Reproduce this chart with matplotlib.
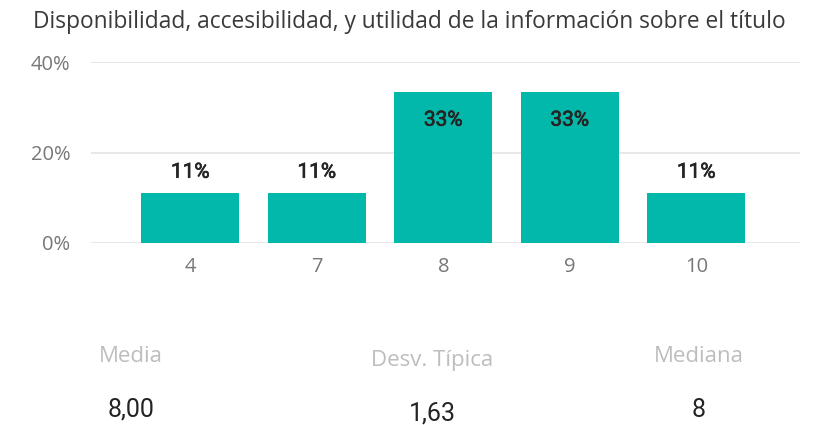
import matplotlib
matplotlib.use("Agg")
import matplotlib.pyplot as plt
import matplotlib.patheffects as pe
from matplotlib.ticker import FuncFormatter

# Survey scores and share of answers per score
categories = ["4", "7", "8", "9", "10"]
shares = [1/9, 1/9, 3/9, 3/9, 1/9]
yticks = [0, 0.2, 0.4]

title = "Disponibilidad, accesibilidad, y utilidad de la información sobre el título"
stat_names = ["Media", "Desv. Típica", "Mediana"]
stat_values = ["8,00", "1,63", "8"]

BAR = "#01B8AA"
W, H = 818, 425

plt.rcParams["font.family"] = ["Open Sans", "DejaVu Sans"]
fig = plt.figure(figsize=(W / 100, H / 100), dpi=100)
ax = fig.add_axes([91 / W, (H - 243) / H, (800 - 91) / W, (243 - 62) / H])

x = list(range(len(categories)))
bars = ax.bar(x, shares, width=0.775, color=BAR, zorder=3)
ax.set_xlim(-0.785, 4.82)
ax.set_ylim(0, 0.4)
ax.set_yticks(yticks)
ax.yaxis.set_major_formatter(FuncFormatter(lambda v, _: f"{v*100:.0f}%"))
ax.set_xticks(x)
ax.set_xticklabels(categories)
ax.grid(axis="y", color="#E6E6E6", linewidth=1.3, zorder=0)
for s in ax.spines.values():
    s.set_visible(False)
ax.tick_params(axis="both", length=0, colors="#777777", labelsize=14.5)
ax.tick_params(axis="y", pad=15)
ax.tick_params(axis="x", pad=10)

# Value labels: above short bars, inside the top of tall bars
thicken = [pe.withStroke(linewidth=0.5, foreground="#252423")]
for b, v in zip(bars, shares):
    label = f"{v*100:.0f}%"
    cx = b.get_x() + b.get_width() / 2
    dy = -33.5 if v > 0.25 else 15
    ax.annotate(label, (cx, v), xytext=(0, dy), textcoords="offset pixels",
                ha="center", va="baseline", fontsize=15, family="Roboto",
                color="#252423", path_effects=thicken)

fig.text(409 / W, 1 - 28 / H, title, ha="center", va="baseline",
         fontsize=16.4, color="#3A3A3A")

stat_x = [131, 432, 699]
name_base = [362, 366, 362]
value_base = [417, 421, 417]
for sx, name, val, nb, vb in zip(stat_x, stat_names, stat_values, name_base, value_base):
    fig.text(sx / W, 1 - nb / H, name, ha="center", va="baseline", fontsize=16,
             color="#BDBDBD")
    fig.text(sx / W, 1 - vb / H, val, ha="center", va="baseline", fontsize=18,
             family="Roboto", color="#252423")

fig.savefig("out.png", dpi=100, facecolor="white")
